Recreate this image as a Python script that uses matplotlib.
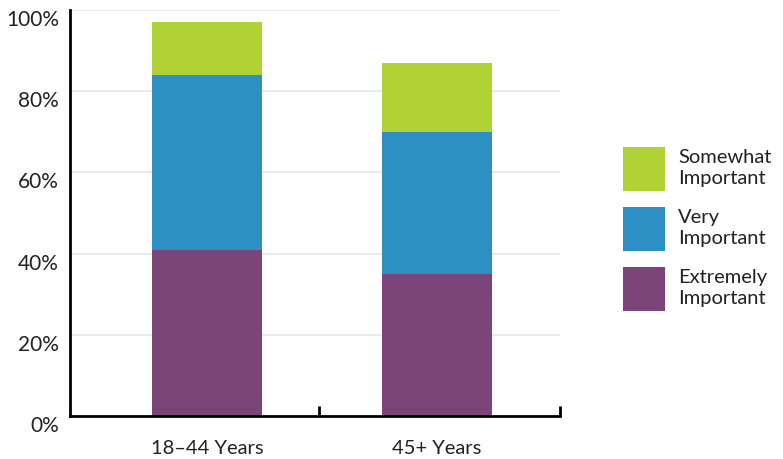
import matplotlib
matplotlib.use("Agg")
import matplotlib.pyplot as plt
from matplotlib.patches import Patch

categories = ["18\u201344 Years", "45+ Years"]
extremely = [41, 35]
very = [43, 35]
somewhat = [13, 17]
series_labels = ["Extremely\nImportant", "Very\nImportant", "Somewhat\nImportant"]
colors = ["#7B4579", "#2E8FC4", "#B0D235"]
yticks = [0, 20, 40, 60, 80, 100]

plt.rcParams['font.family'] = ['Lato', 'DejaVu Sans']

W, H = 783, 459
fig = plt.figure(figsize=(W / 100, H / 100), dpi=100)
left, right, bottom, top = 70, 560, 416, 10
ax = fig.add_axes([left / W, 1 - bottom / H, (right - left) / W, (bottom - top) / H])

x = [0, 1]
width = 0.478
ax.bar(x, extremely, width, color=colors[0], zorder=3)
ax.bar(x, very, width, bottom=extremely, color=colors[1], zorder=3)
base2 = [a + b for a, b in zip(extremely, very)]
ax.bar(x, somewhat, width, bottom=base2, color=colors[2], zorder=3)

ax.set_xlim(-0.596, 1.535)
ax.set_ylim(0, 100)
ax.set_yticks(yticks)
ax.set_yticklabels([f"{v}%" for v in yticks], fontsize=15, color="#222222", va='top')
ax.set_xticks(x)
ax.set_xticklabels(categories, fontsize=14.5, color="#222222")
ax.tick_params(axis='x', length=0, pad=17)
ax.tick_params(axis='y', length=0, pad=8)
ax.set_xticks([0.487, 1.535], minor=True)
ax.tick_params(axis='x', which='minor', direction='in', length=7, width=2, color='black')
for yv in yticks[1:]:
    ax.axhline(yv, color='#E6E6E6', lw=1.2, zorder=1)
for s in ['top', 'right']:
    ax.spines[s].set_visible(False)
ax.spines['left'].set_linewidth(2)
ax.spines['bottom'].set_linewidth(2)
ax.spines['left'].set_zorder(4)
ax.spines['bottom'].set_zorder(4)

handles = [Patch(facecolor=c, edgecolor='none') for c in colors][::-1]
labels = series_labels[::-1]
fs = 14.5
fpx = fs * 100 / 72
hh = (44 / fpx - 0.245) / 0.65
leg = fig.legend(handles, labels, loc='upper left',
                 bbox_to_anchor=(623 / W, 1 - 147 / H), bbox_transform=fig.transFigure,
                 frameon=False, fontsize=fs, borderpad=0, borderaxespad=0,
                 handlelength=42 / fpx, handleheight=hh,
                 handletextpad=13 / fpx, labelspacing=16 / fpx,
                 labelcolor="#222222")
for t in leg.get_texts():
    t.set_linespacing(1.3)

fig.savefig("out.png", dpi=100)
